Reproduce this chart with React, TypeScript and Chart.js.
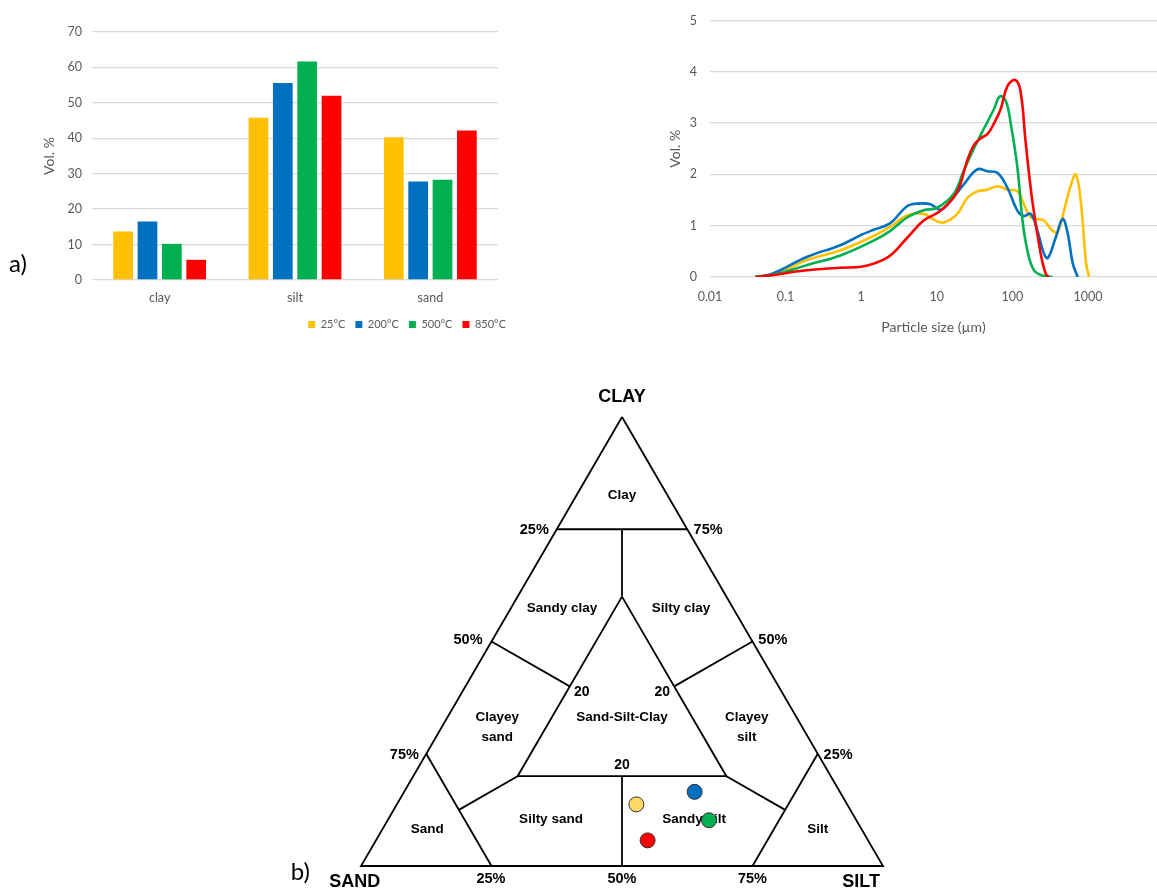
import { useEffect, useRef } from "react";
import { Chart, registerables } from "chart.js";

Chart.register(...registerables);

// ---- a) grain-size fractions (bar chart) ----
const fractions = ["clay", "silt", "sand"];
const temperatures = ["25°C", "200°C", "500°C", "850°C"];
const seriesColors = ["#FFC000", "#0070C0", "#00B050", "#FF0000"];
const dotColors = ["#FFD966", "#0070C0", "#00B050", "#FF0000"];
const clayPct = [13.7, 16.5, 10.2, 5.7];
const siltPct = [45.8, 55.6, 61.7, 52.0];
const sandPct = [40.3, 27.8, 28.3, 42.2];
const volTicksMax = 70;

// ---- a) particle size distribution (log x) ----
const size25 = [0.04, 0.056, 0.1, 0.19, 0.53, 1.46, 2.43, 4.04, 6.7, 9.0, 12.3, 18.7, 25.3, 34.4, 46.7, 63.4, 86, 117, 142, 175, 215, 261, 341, 397, 482, 597, 695, 811, 944, 1035];
const vol25 = [0, 0.02, 0.14, 0.33, 0.52, 0.8, 0.98, 1.2, 1.23, 1.12, 1.06, 1.23, 1.54, 1.67, 1.7, 1.77, 1.7, 1.67, 1.42, 1.16, 1.13, 1.1, 0.9, 0.87, 1.29, 1.8, 2.0, 1.42, 0.27, 0];
const size200 = [0.04, 0.068, 0.19, 0.53, 1.0, 1.46, 2.43, 4.04, 5.5, 8.25, 11.2, 15.2, 22.6, 34.4, 46.7, 63.4, 86, 117, 142, 175, 215, 261, 295, 377, 463, 540, 629, 733];
const vol200 = [0, 0.07, 0.39, 0.62, 0.82, 0.92, 1.05, 1.38, 1.43, 1.42, 1.31, 1.48, 1.8, 2.1, 2.06, 2.03, 1.74, 1.29, 1.19, 1.23, 0.9, 0.46, 0.37, 0.78, 1.13, 0.85, 0.27, 0];
const size500 = [0.04, 0.068, 0.19, 0.53, 1.46, 2.43, 4.04, 6.7, 10.1, 16.7, 22.6, 30.9, 42, 57, 68.6, 82, 96, 117, 135, 158, 194, 260, 341];
const vol500 = [0, 0.04, 0.23, 0.42, 0.71, 0.9, 1.16, 1.3, 1.35, 1.62, 2.06, 2.5, 2.89, 3.27, 3.52, 3.43, 2.96, 2.12, 1.16, 0.52, 0.13, 0.02, 0];
const size850 = [0.04, 0.068, 0.19, 0.53, 1.0, 1.46, 2.43, 4.04, 6.7, 11.2, 18.7, 25, 31, 38, 47, 57, 70, 86, 109, 128, 150, 184, 237, 277, 305];
const vol850 = [0, 0.04, 0.13, 0.18, 0.2, 0.26, 0.42, 0.76, 1.1, 1.29, 1.67, 2.25, 2.57, 2.7, 2.79, 2.99, 3.27, 3.72, 3.84, 3.63, 2.63, 1.48, 0.46, 0.06, 0];
const sizeTicks = [0.01, 0.1, 1, 10, 100, 1000];

// ---- b) Shepard ternary classification: boundaries as [clay, silt] compositions ----
const outline: number[][] = [[100, 0], [0, 0], [0, 100], [100, 0]];
const clayCut: number[][] = [[75, 0], [75, 25]];
const clayStem: number[][] = [[75, 12.5], [60, 20]];
const centralZone: number[][] = [[60, 20], [20, 20], [20, 60], [60, 20]];
const clayeySandCut: number[][] = [[50, 0], [40, 20]];
const clayeySiltCut: number[][] = [[50, 50], [40, 40]];
const sandCut: number[][] = [[25, 0], [0, 25]];
const siltCut: number[][] = [[25, 75], [0, 75]];
const siltySandCut: number[][] = [[20, 20], [12.5, 12.5]];
const sandySiltCut: number[][] = [[20, 60], [12.5, 75]];
const centreStem: number[][] = [[20, 40], [0, 50]];

const H = Math.sqrt(3) / 2;
const toTernary = (clay: number, silt: number, sand?: number) => {
  const total = sand === undefined ? 100 : clay + silt + sand;
  const c = (clay / total) * 100;
  const s = (silt / total) * 100;
  return { x: s + c / 2, y: c * H };
};

type Label = { text: string; x: number; y: number; size: number; bold?: boolean; family?: string };
const ternaryLabels: Label[] = [
  { text: "Clay", x: 50, y: 71.6, size: 13.5 },
  { text: "Sandy clay", x: 38.5, y: 49.7, size: 13.5 },
  { text: "Silty clay", x: 61.3, y: 49.7, size: 13.5 },
  { text: "Sand-Silt-Clay", x: 50, y: 28.6, size: 13.5 },
  { text: "Clayey", x: 26.1, y: 28.6, size: 13.5 },
  { text: "sand", x: 26.1, y: 24.8, size: 13.5 },
  { text: "Clayey", x: 73.9, y: 28.6, size: 13.5 },
  { text: "silt", x: 73.9, y: 24.8, size: 13.5 },
  { text: "Silty sand", x: 36.4, y: 9.0, size: 13.5 },
  { text: "Sandy silt", x: 63.8, y: 9.0, size: 13.5 },
  { text: "Sand", x: 12.7, y: 7.0, size: 13.5 },
  { text: "Silt", x: 87.5, y: 7.0, size: 13.5 },
  { text: "20", x: 42.3, y: 33.5, size: 14 },
  { text: "20", x: 57.7, y: 33.5, size: 14 },
  { text: "20", x: 50, y: 19.4, size: 14 },
  { text: "25%", x: 33.2, y: 64.9, size: 14.5 },
  { text: "50%", x: 20.5, y: 43.5, size: 14.5 },
  { text: "75%", x: 8.3, y: 21.4, size: 14.5 },
  { text: "75%", x: 66.5, y: 64.9, size: 14.5 },
  { text: "50%", x: 78.9, y: 43.5, size: 14.5 },
  { text: "25%", x: 91.4, y: 21.4, size: 14.5 },
  { text: "25%", x: 24.9, y: -2.6, size: 14.5 },
  { text: "50%", x: 50, y: -2.6, size: 14.5 },
  { text: "75%", x: 75, y: -2.6, size: 14.5 },
  { text: "CLAY", x: 50, y: 90.4, size: 18 },
  { text: "SAND", x: -1.2, y: -3.1, size: 18 },
  { text: "SILT", x: 95.8, y: -3.1, size: 18 },
  { text: "b)", x: -11.6, y: -1.3, size: 24, bold: false, family: "Lato, 'Liberation Sans', sans-serif" },
];

const officeFont = "Lato, 'Liberation Sans', sans-serif";
const diagramFont = "'Liberation Sans', Arial, sans-serif";
const axisGrey = "#595959";
const gridGrey = "#D9D9D9";

const toPoints = (sizes: number[], vols: number[]) => sizes.map((s, i) => ({ x: s, y: vols[i] }));

export default function App() {
  const barRef = useRef<HTMLCanvasElement>(null);
  const psdRef = useRef<HTMLCanvasElement>(null);
  const ternRef = useRef<HTMLCanvasElement>(null);

  useEffect(() => {
    document.body.style.margin = "0";
    const charts: Chart[] = [];

    const panelLabel = {
      id: "panelLabel",
      afterDraw(chart: Chart) {
        const { ctx } = chart;
        ctx.save();
        ctx.font = `24px ${officeFont}`;
        ctx.fillStyle = "#000";
        ctx.textAlign = "left";
        ctx.textBaseline = "middle";
        ctx.fillText("a)", 9, 264);
        ctx.restore();
      },
    };

    charts.push(
      new Chart(barRef.current!, {
        type: "bar",
        data: {
          labels: fractions,
          datasets: temperatures.map((t, i) => ({
            label: t,
            data: [clayPct[i], siltPct[i], sandPct[i]],
            backgroundColor: seriesColors[i],
            categoryPercentage: 0.72,
            barPercentage: 0.81,
          })),
        },
        options: {
          animation: false,
          responsive: false,
          layout: { padding: { top: 32, right: 2, left: 0, bottom: 0 } },
          plugins: {
            legend: {
              position: "bottom",
              align: "end",
              labels: { boxWidth: 7, boxHeight: 7, padding: 10, color: axisGrey, font: { family: officeFont, size: 11 } },
            },
            tooltip: { enabled: false },
          },
          scales: {
            x: {
              grid: { display: false, drawTicks: false },
              border: { display: false },
              ticks: { padding: 10, color: axisGrey, font: { family: officeFont, size: 12.5 } },
              afterFit: (s: any) => { s.height = 29; },
            },
            y: {
              min: 0,
              max: volTicksMax,
              ticks: { stepSize: 10, padding: 10, color: axisGrey, font: { family: officeFont, size: 12.5 } },
              grid: { color: gridGrey, drawTicks: false, lineWidth: 1.3 },
              border: { display: false },
              title: { display: true, text: "Vol. %", color: axisGrey, font: { family: officeFont, size: 14 }, padding: { top: 41, bottom: 0 } },
              afterFit: (s: any) => { s.width = 92; },
            },
            // empty gutter on the right so the plot stops short of the legend's end
            gutter: {
              type: "linear",
              position: "right",
              display: true,
              grid: { display: false, drawTicks: false },
              border: { display: false },
              ticks: { display: false },
              afterFit: (s: any) => { s.width = 18; },
            },
          },
        },
        plugins: [panelLabel],
      })
    );

    const psdSeries = [toPoints(size25, vol25), toPoints(size200, vol200), toPoints(size500, vol500), toPoints(size850, vol850)];
    charts.push(
      new Chart(psdRef.current!, {
        type: "line",
        data: {
          datasets: psdSeries.map((pts, i) => ({
            label: temperatures[i],
            data: pts,
            borderColor: seriesColors[i],
            borderWidth: 2.6,
            pointRadius: 0,
            tension: 0.4,
            fill: false,
            order: 3 - i,
          })),
        },
        options: {
          animation: false,
          responsive: false,
          layout: { padding: { top: 16, right: 0, left: 0, bottom: 0 } },
          plugins: { legend: { display: false }, tooltip: { enabled: false } },
          scales: {
            x: {
              type: "logarithmic",
              min: 0.01,
              max: 8200,
              afterBuildTicks: (s: any) => { s.ticks = sizeTicks.map((v) => ({ value: v })); },
              ticks: { autoSkip: false, maxRotation: 0, padding: 12, color: axisGrey, font: { family: officeFont, size: 12.5 }, callback: (v: any) => String(v) },
              grid: { display: false, drawTicks: false },
              border: { display: false },
              title: { display: true, text: "Particle size (µm)", color: axisGrey, font: { family: officeFont, size: 14 }, padding: { top: 0, bottom: 4 } },
              afterFit: (s: any) => { s.height = 63; },
            },
            y: {
              min: 0,
              max: 5,
              ticks: { stepSize: 1, padding: 13, color: axisGrey, font: { family: officeFont, size: 12.5 } },
              grid: { color: gridGrey, drawTicks: false, lineWidth: 1.3 },
              border: { display: false },
              title: { display: true, text: "Vol. %", color: axisGrey, font: { family: officeFont, size: 14 }, padding: { top: 27, bottom: 0 } },
              afterFit: (s: any) => { s.width = 70; },
            },
          },
        },
      })
    );

    const boundaryLines = [outline, clayCut, clayStem, centralZone, clayeySandCut, clayeySiltCut, sandCut, siltCut, siltySandCut, sandySiltCut, centreStem];
    const samplePoints = clayPct.map((c, i) => toTernary(c, siltPct[i], sandPct[i]));

    const ternaryText = {
      id: "ternaryText",
      beforeDatasetsDraw(chart: Chart) {
        const { ctx } = chart;
        const xs = chart.scales.x;
        const ys = chart.scales.y;
        ctx.save();
        ctx.fillStyle = "#000";
        ctx.textAlign = "center";
        ctx.textBaseline = "middle";
        for (const l of ternaryLabels) {
          ctx.font = `${l.bold === false ? "" : "bold "}${l.size}px ${l.family ?? diagramFont}`;
          ctx.fillText(l.text, xs.getPixelForValue(l.x), ys.getPixelForValue(l.y));
        }
        ctx.restore();
      },
    };

    charts.push(
      new Chart(ternRef.current!, {
        type: "scatter",
        data: {
          datasets: [
            {
              label: "samples",
              data: samplePoints,
              pointRadius: 7.5,
              pointBackgroundColor: dotColors,
              pointBorderColor: "#333",
              pointBorderWidth: 1,
              showLine: false,
              clip: false,
            } as any,
            ...boundaryLines.map((seg) => ({
              label: "boundary",
              data: seg.map(([c, s]) => toTernary(c, s)),
              showLine: true,
              borderColor: "#000",
              borderWidth: 1.8,
              pointRadius: 0,
              fill: false,
              clip: false,
            })),
          ],
        },
        options: {
          animation: false,
          responsive: false,
          layout: { padding: { top: 37, right: 17, left: 81, bottom: 22 } },
          plugins: { legend: { display: false }, tooltip: { enabled: false } },
          scales: {
            x: { type: "linear", min: 0, max: 100, display: false },
            y: { type: "linear", min: 0, max: 100 * H, display: false },
          },
        },
        plugins: [ternaryText],
      })
    );

    return () => charts.forEach((c) => c.destroy());
  }, []);

  return (
    <div style={{ position: "relative", width: 1157, height: 888, background: "#fff", overflow: "hidden" }}>
      <canvas ref={barRef} width={518} height={340} style={{ position: "absolute", left: 0, top: 0 }} />
      <canvas ref={psdRef} width={517} height={340} style={{ position: "absolute", left: 640, top: 0 }} />
      <canvas ref={ternRef} width={620} height={508} style={{ position: "absolute", left: 280, top: 380 }} />
    </div>
  );
}
